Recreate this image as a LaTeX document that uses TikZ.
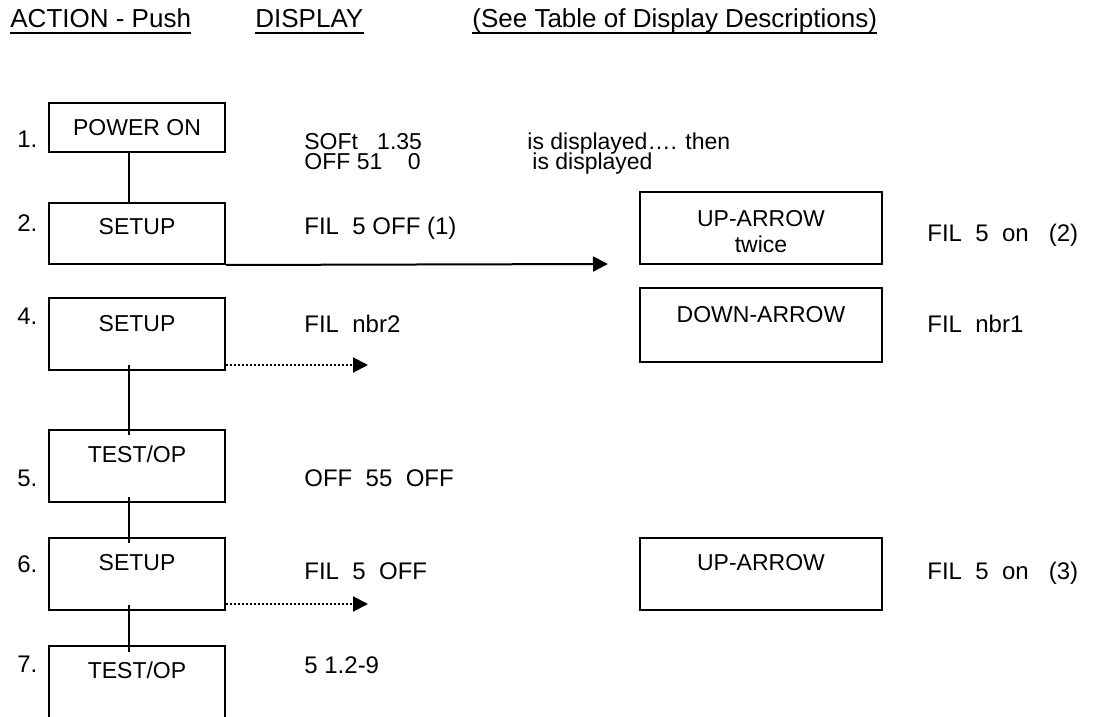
\documentclass[tikz,border=0pt]{standalone}
\usepackage{fontspec}
\setmainfont{Liberation Sans}
\usepackage{tikz}
\usetikzlibrary{arrows.meta,fit,calc}

\begin{document}
\begin{tikzpicture}[x=0.5pt,y=-0.5pt,
    keybox/.style={draw,line width=1pt,inner sep=0pt},
    keytext/.style={font=\fontsize{11.5}{13}\selectfont,inner sep=0pt,anchor=base},
    disptext/.style={font=\fontsize{12}{14}\selectfont,inner sep=0pt,anchor=base west},
    softext/.style={font=\fontsize{11.5}{13}\selectfont,inner sep=0pt,anchor=base west},
    headtext/.style={font=\fontsize{13}{16}\selectfont,inner sep=0pt,anchor=base west},
    numlabel/.style={font=\fontsize{12}{14}\selectfont,inner sep=0pt,anchor=base west},
    link/.style={line width=1pt},
    push/.style={line width=1pt,-{Triangle[length=7.5pt,width=7.5pt]}},
    dotpush/.style={push,dash pattern=on 1pt off 1pt}]
  \useasboundingbox (0,0) rectangle (1100,717);
  % headings
  \node[headtext] (hact) at (10,28) {ACTION - Push};
  \node[headtext] (hdisp) at (255,28) {DISPLAY};
  \node[headtext] (hsee) at (472,28) {(See Table of Display Descriptions)};
  \foreach \h in {hact,hdisp,hsee}
    \draw[line width=1.3pt] ([yshift=-2.6pt]\h.base west) -- ([yshift=-2.6pt]\h.base east);
  % step numbers
  \foreach \n/\y in {1/148,2/232,4/325,5/487,6/572,7/672}
    \node[numlabel] (num\n) at (17,\y) {\n.};
  % keys pushed, left column
  \node[keybox,fit={(49,103) (225,152)}] (b1) {};
  \node[keybox,fit={(49,203) (225,264)}] (b2) {};
  \node[keybox,fit={(49,298) (225,370)}] (b4) {};
  \node[keybox,fit={(49,430) (225,502)}] (b5) {};
  \node[keybox,fit={(49,538) (225,610)}] (b6) {};
  \node[inner sep=0pt,fit={(49,646) (225,717)}] (b7) {};
  \draw[line width=1pt] (b7.south west) -- (b7.north west) -- (b7.north east) -- (b7.south east);
  \node[keytext] (k1) at (137,136) {POWER ON};
  \node[keytext] (k2) at (137,235) {SETUP};
  \node[keytext] (k4) at (137,332) {SETUP};
  \node[keytext] (k5) at (137,463) {TEST/OP};
  \node[keytext] (k6) at (137,570) {SETUP};
  \node[keytext] (k7) at (137,678) {TEST/OP};
  % keys pushed, right column
  \node[keybox,fit={(640,192) (882,264)}] (r2) {};
  \node[keybox,fit={(640,288) (882,362)}] (r4) {};
  \node[keybox,fit={(640,538) (882,610)}] (r6) {};
  \node[keytext] (u2) at (761,227) {UP-ARROW};
  \node[keytext] (u2b) at (761,253) {twice};
  \node[keytext] (d4) at (761,322) {DOWN-ARROW};
  \node[keytext] (u6) at (761,570) {UP-ARROW};
  % what the display shows
  \node[softext] (s1a) at (304,150) {SOFt\ \ \ 1.35};
  \node[softext] (s1b) at (304,170) {OFF 51\ \ \ \ 0};
  \node[softext] (s1c) at (527,150) {is displayed…. then};
  \node[softext] (s1d) at (532,170) {is displayed};
  \node[disptext] (f2) at (304,235) {FIL\ \ 5 OFF (1)};
  \node[disptext] (f4) at (304,333) {FIL\ \ nbr2};
  \node[disptext] (f5) at (304,487) {OFF\ \ 55\ \ OFF};
  \node[disptext] (f6) at (304,580) {FIL\ \ 5\ \ OFF};
  \node[disptext] (f7) at (304,673) {5 1.2-9};
  \node[disptext] (g2) at (927,242) {FIL\ \ 5\ \ on\ \ \ (2)};
  \node[disptext] (g4) at (927,333) {FIL\ \ nbr1};
  \node[disptext] (g6) at (927,580) {FIL\ \ 5\ \ on\ \ \ (3)};
  % connectors
  \coordinate (spine) at (129,0);
  \draw[link] (b1.south -| spine) -- (b2.north -| spine);
  \draw[link] ($(b4.south -| spine)+(0,-6)$) -- ($(b5.north -| spine)+(0,6)$);
  \draw[link] ($(b5.south -| spine)+(0,-6)$) -- ($(b6.north -| spine)+(0,6)$);
  \draw[link] ($(b6.south -| spine)+(0,-6)$) -- ($(b7.north -| spine)+(0,6)$);
  \coordinate (e2) at (608,264);
  \coordinate (e4) at (368,365);
  \coordinate (e6) at (368,604);
  \draw[push] (b2.south east) -- (e2);
  \draw[dotpush] (b4.south east |- e4) -- (e4);
  \draw[dotpush] (b6.south east |- e6) -- (e6);
\end{tikzpicture}
\end{document}
